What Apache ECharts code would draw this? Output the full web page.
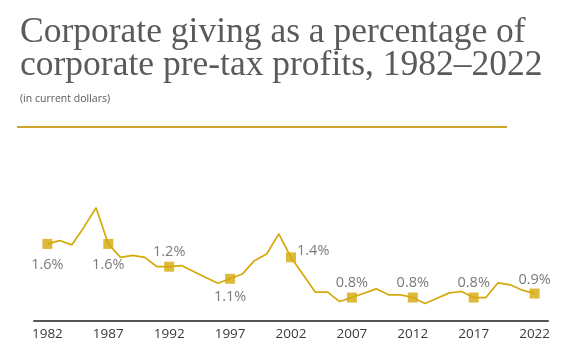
<!DOCTYPE html>
<html>
<head>
<meta charset="utf-8">
<script src="https://cdn.jsdelivr.net/npm/echarts@6/dist/echarts.min.js"></script>
<style>
html,body{margin:0;padding:0;background:#fff;}
#chart{width:585px;height:356px;}
</style>
</head>
<body>
<div id="chart"></div>
<script>
// Data
const years = [1982,1983,1984,1985,1986,1987,1988,1989,1990,1991,1992,1993,1994,1995,1996,1997,1998,1999,2000,2001,2002,2003,2004,2005,2006,2007,2008,2009,2010,2011,2012,2013,2014,2015,2016,2017,2018,2019,2020,2021,2022];
const giving = [1.60,1.65,1.585,1.85,2.14,1.60,1.40,1.43,1.40,1.26,1.26,1.277,1.19,1.10,1.014,1.08,1.15,1.35,1.45,1.75,1.40,1.14,0.88,0.88,0.74,0.80,0.865,0.93,0.84,0.84,0.80,0.71,0.79,0.87,0.89,0.80,0.80,1.02,0.99,0.91,0.86];
const markerYears = [1982,1987,1992,1997,2002,2007,2012,2017,2022];
const markerLabels = ['1.6%','1.6%','1.2%','1.1%','1.4%','0.8%','0.8%','0.8%','0.9%'];
const tickYears = [1982,1987,1992,1997,2002,2007,2012,2017,2022];

const GOLD = '#D4A90A';
const labelPlacement = {
  1982:{position:'bottom',distance:8},
  1987:{position:'bottom',distance:8},
  1992:{position:'top',distance:2},
  1997:{position:'bottom',distance:6},
  2002:{position:'right',distance:1,offset:[0,-6]},
  2007:{position:'top',distance:2},
  2012:{position:'top',distance:2},
  2017:{position:'top',distance:2},
  2022:{position:'top',distance:1}
};

const lineData = years.map((y,i)=>[y,giving[i]]);
const markerData = markerYears.map((y,i)=>({
  value:[y, giving[years.indexOf(y)]],
  label:Object.assign({show:true, formatter:markerLabels[i]}, labelPlacement[y])
}));

const chart = echarts.init(document.getElementById('chart'));
chart.setOption({
  animation:false,
  backgroundColor:'#fff',
  title:[{
    text:'Corporate giving as a percentage of\ncorporate pre-tax profits, 1982\u20132022',
    left:15, top:11,
    textStyle:{fontFamily:'Liberation Serif',fontWeight:'normal',fontSize:35.5,lineHeight:33,color:'#5a5a5a'}
  },{
    text:'(in current dollars)',
    left:15, top:89,
    textStyle:{fontFamily:'Open Sans',fontWeight:'normal',fontSize:10.5,color:'#595959'}
  }],
  graphic:[{
    type:'rect', shape:{x:17,y:126,width:490,height:2}, style:{fill:'#CDA52A'}, silent:true
  }],
  grid:{left:34,right:37,top:197,bottom:35,containLabel:false},
  xAxis:{
    type:'value', min:1980.9, max:2023.1,
    axisLine:{show:true,lineStyle:{color:'#555555',width:2}},
    axisTick:{show:false},
    splitLine:{show:false},
    axisLabel:{customValues:tickYears, formatter:v=>String(v), color:'#3a3a3a', fontFamily:'Open Sans', fontSize:13.5, margin:6}
  },
  yAxis:{
    type:'value', min:0.45, max:2.3, show:false, splitLine:{show:false}
  },
  series:[{
    type:'line', data:lineData, symbol:'none',
    lineStyle:{color:GOLD,width:1.7}, z:2
  },{
    type:'scatter', data:markerData, symbol:'rect', symbolSize:10,
    itemStyle:{color:GOLD}, z:3,
    label:{color:'#595959', fontFamily:'Open Sans', fontSize:14.5}
  }]
});
</script>
</body>
</html>
